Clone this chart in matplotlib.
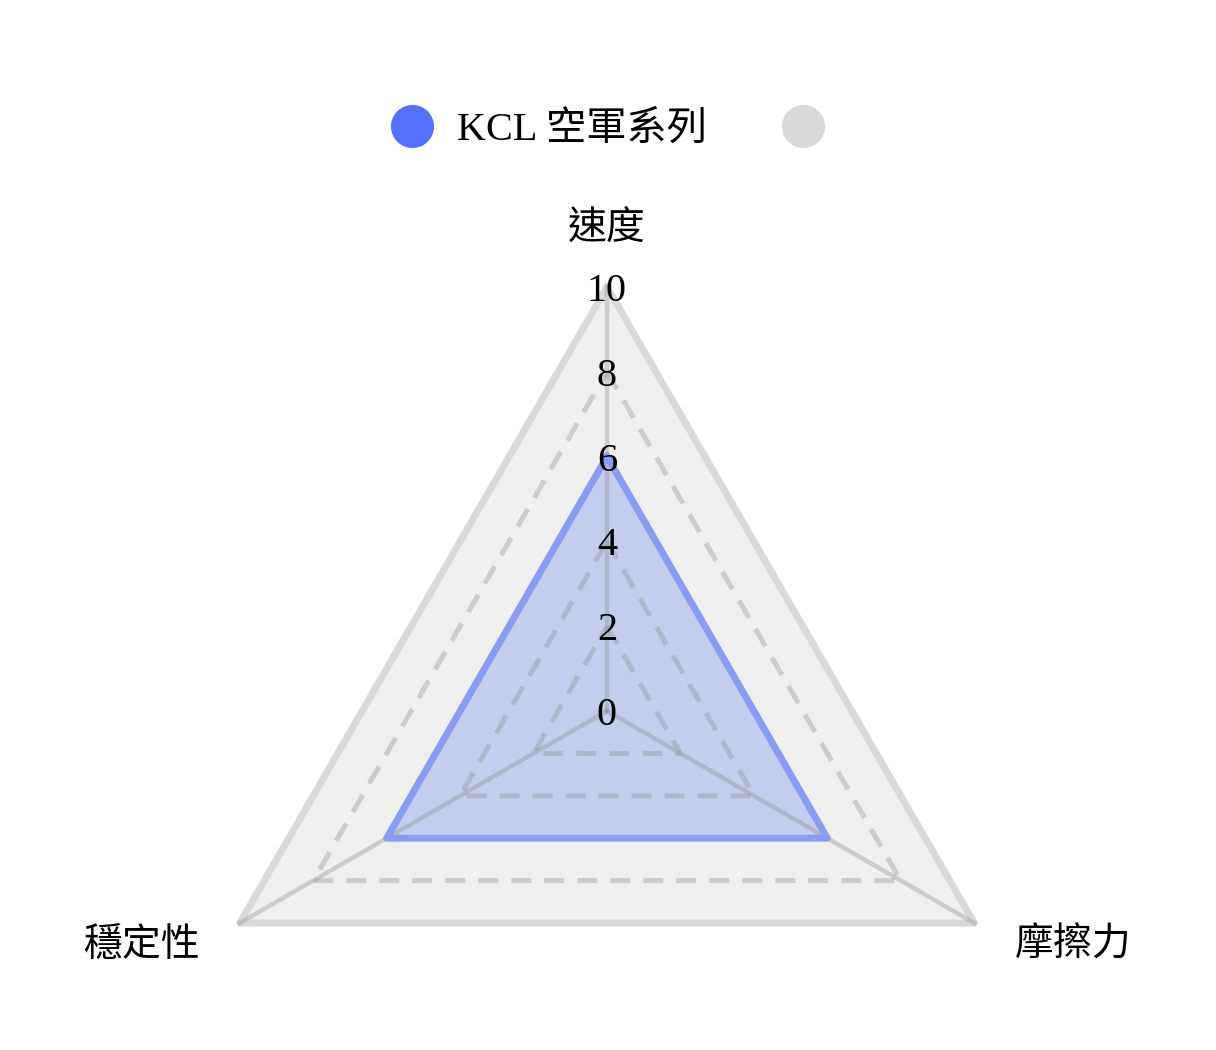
import matplotlib.pyplot as plt
import numpy as np
from matplotlib.lines import Line2D

plt.rcParams['font.family'] = ['Liberation Serif', 'Noto Sans CJK TC', 'DejaVu Sans']

# data
indicators = ['速度', '摩擦力', '穩定性']
max_values = [10, 10, 10]
kcl_values = [6, 6, 6]
grey_values = [10, 10, 10]
series_names = ['KCL 空軍系列', '']
ticks = [0, 2, 4, 6, 8, 10]

blue = '#5470fd'
grey = '#d9d9d9'

fig = plt.figure(figsize=(12.16, 10.5), dpi=100)
W, H = 1216, 1050
cx, cy, R = 607, 711, 424
ax = fig.add_axes([(cx - R) / W, (H - cy - R) / H, 2 * R / W, 2 * R / H],
                  projection='polar')
ax.set_theta_zero_location('N')
ax.set_theta_direction(-1)
ax.set_ylim(0, 10)
ax.axis('off')

theta = np.deg2rad([0, 120, 240])


def closed(vals):
    return np.append(theta, theta[0]), np.append(vals, vals[0])


# grey series (full 10)
t, r = closed(grey_values)
ax.fill(t, r, color='#efefef', zorder=1, clip_on=False)
ax.plot(t, r, color=grey, lw=5, solid_joinstyle='round', zorder=2, clip_on=False)

# blue series fill
t, r = closed(kcl_values)
ax.fill(t, r, color='#c5cdef', lw=0, zorder=2, clip_on=False)

# split lines (dashed) and axis lines
for lv in ticks[1:-1]:
    t, r = closed([lv] * 3)
    ax.plot(t, r, color='#8c8c8c', alpha=0.35, lw=3.6, linestyle=(0, (4, 2.6)),
            zorder=3, clip_on=False)
for th, mx in zip(theta, max_values):
    ax.plot([th, th], [0, mx], color='#8c8c8c', alpha=0.35, lw=3.2, zorder=3,
            clip_on=False)

t, r = closed(kcl_values)
ax.plot(t, r, color='#8a9cf0', lw=5, solid_joinstyle='round', zorder=4,
        clip_on=False)

# tick labels on top axis
for v in ticks:
    ax.text(0, v, str(v), ha='center', va='center_baseline', fontsize=29, zorder=6)

# indicator names
ax.text(theta[0], 10.9, indicators[0], ha='center', va='bottom', fontsize=28)
ax.text(theta[1], 11.1, indicators[1], ha='left', va='center', fontsize=28)
ax.text(theta[2], 11.1, indicators[2], ha='right', va='center', fontsize=28)

# legend
handles = [Line2D([], [], marker='o', linestyle='', color=blue, markersize=30),
           Line2D([], [], marker='o', linestyle='', color=grey, markersize=30)]
fig.legend(handles, series_names, loc='center left',
           bbox_to_anchor=(380 / W, 1 - 130 / H), ncol=2, frameon=False,
           fontsize=29, handlelength=1.6, handletextpad=0.3,
           columnspacing=1.6, borderpad=0, borderaxespad=0)

fig.savefig('out.png', dpi=100)
